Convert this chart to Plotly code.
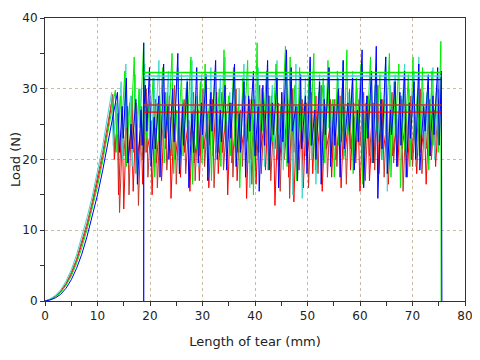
import plotly.graph_objects as go

# ---- initial ramps (length mm, load N) ----
ramp_x = [0, 1, 2, 3, 4, 5, 6, 7, 8, 9, 10, 11, 12]
cyan_ramp_y = [0, 0.3, 0.8, 1.6, 2.8, 4.4, 6.5, 9.0, 11.8, 14.8, 18.2, 22.0, 26.5]
darkred_ramp_y = [0, 0.25, 0.7, 1.4, 2.5, 4.0, 5.9, 8.3, 11.0, 14.0, 17.3, 21.0, 25.2]
red_ramp_y = [0, 0.22, 0.65, 1.3, 2.35, 3.75, 5.6, 7.9, 10.5, 13.5, 16.7, 20.3, 24.4]
green_ramp_y = [0, 0.2, 0.6, 1.2, 2.2, 3.5, 5.3, 7.5, 10.1, 13.0, 16.2, 19.8, 23.8]
blue_ramp_y = [0, 0.15, 0.45, 0.95, 1.8, 3.0, 4.6, 6.6, 9.1, 11.9, 15.0, 18.5, 22.4]

# ---- stick-slip region ----
blue_x = [13.0, 13.8, 14.2, 14.7, 14.9, 15.5, 15.8, 16.4, 16.6, 17.3, 17.6, 18.3, 18.5, 19.1, 19.4, 19.9, 20.2, 20.8, 21.0, 21.7, 21.9, 22.6, 22.9, 23.4, 23.6, 24.3, 24.6, 25.3, 25.6, 26.2, 26.4, 27.1, 27.4, 28.0, 28.3, 28.9, 29.2, 29.8, 30.0, 30.7, 31.0, 31.6, 31.8, 32.5, 32.8, 33.4, 33.6, 34.3, 34.6, 35.2, 35.4, 36.1, 36.4, 37.0, 37.2, 37.9, 38.2, 38.8, 39.0, 39.7, 40.0, 40.6, 40.8, 41.5, 41.8, 42.4, 42.7, 43.3, 43.5, 44.2, 44.5, 45.1, 45.3, 46.0, 46.3, 46.9, 47.1, 47.8, 48.1, 48.7, 48.9, 49.6, 49.9, 50.5, 50.8, 51.4, 51.6, 52.3, 52.6, 53.2, 53.4, 54.1, 54.4, 55.0, 55.2, 55.9, 56.2, 56.8, 57.0, 57.7, 58.0, 58.6, 58.9, 59.5, 59.7, 60.4, 60.7, 61.3, 61.5, 62.2, 62.5, 63.1, 63.4, 64.0, 64.2, 64.9, 65.2, 65.8, 66.0, 66.7, 67.0, 67.6, 67.8, 68.5, 68.8, 69.4, 69.6, 70.3, 70.6, 71.2, 71.4, 72.1, 72.4, 73.0, 73.3, 73.9, 74.1, 74.8, 75.1, 75.5, 75.6]
blue_y = [26.5, 29.5, 21.0, 27.5, 23.0, 31.5, 19.5, 25.0, 21.5, 28.5, 16.5, 27.0, 22.0, 30.5, 24.0, 33.0, 19.0, 26.0, 21.5, 29.0, 17.5, 33.5, 23.0, 27.5, 20.0, 30.0, 22.5, 35.0, 18.0, 27.5, 22.0, 31.0, 16.0, 26.5, 21.0, 33.0, 19.5, 28.0, 23.5, 32.0, 17.0, 29.5, 24.0, 34.0, 20.0, 27.0, 22.5, 30.5, 18.5, 28.0, 23.0, 33.5, 19.0, 26.5, 21.0, 31.0, 17.5, 29.0, 24.0, 32.5, 20.5, 27.5, 15.5, 30.5, 22.0, 34.0, 18.5, 28.0, 23.5, 31.5, 16.0, 29.5, 22.5, 35.5, 19.5, 33.0, 24.0, 27.5, 17.0, 32.0, 21.5, 29.0, 18.0, 34.5, 22.0, 27.0, 20.0, 31.0, 16.5, 28.5, 23.5, 33.0, 19.0, 27.5, 22.0, 30.0, 17.5, 34.0, 21.5, 28.0, 24.0, 31.5, 18.5, 27.0, 22.5, 35.5, 16.0, 29.0, 23.0, 32.5, 19.5, 36.0, 14.5, 28.5, 21.5, 34.5, 18.0, 27.0, 23.5, 31.0, 19.0, 29.5, 22.0, 32.5, 17.5, 28.0, 23.0, 31.0, 20.0, 33.5, 18.5, 27.5, 24.0, 32.0, 20.5, 29.0, 23.5, 33.0, 22.0, 32.5, 0]

green_x = [13.0, 13.4, 13.7, 14.4, 14.6, 15.2, 15.5, 16.1, 16.3, 17.0, 17.3, 17.9, 18.1, 18.8, 19.1, 19.7, 19.9, 20.6, 20.9, 21.5, 21.7, 22.4, 22.7, 23.3, 23.5, 24.2, 24.5, 25.1, 25.3, 26.0, 26.3, 26.9, 27.1, 27.8, 28.1, 28.7, 28.9, 29.6, 29.9, 30.5, 30.7, 31.4, 31.7, 32.3, 32.5, 33.2, 33.5, 34.1, 34.3, 35.0, 35.3, 35.9, 36.1, 36.8, 37.1, 37.7, 37.9, 38.6, 38.9, 39.5, 39.7, 40.4, 40.7, 41.3, 41.5, 42.2, 42.5, 43.1, 43.3, 44.0, 44.3, 44.9, 45.1, 45.8, 46.1, 46.7, 46.9, 47.6, 47.9, 48.5, 48.7, 49.4, 49.7, 50.3, 50.5, 51.2, 51.5, 52.1, 52.3, 53.0, 53.3, 53.9, 54.1, 54.8, 55.1, 55.7, 55.9, 56.6, 56.9, 57.5, 57.7, 58.4, 58.7, 59.3, 59.5, 60.2, 60.5, 61.1, 61.3, 62.0, 62.3, 62.9, 63.1, 63.8, 64.1, 64.7, 64.9, 65.6, 65.9, 66.5, 66.7, 67.4, 67.7, 68.3, 68.5, 69.2, 69.5, 70.1, 70.3, 71.0, 71.3, 71.9, 72.1, 72.8, 73.1, 73.7, 73.9, 74.6, 74.9, 75.4, 75.45]
green_y = [28.0, 29.8, 21.0, 29.0, 24.0, 32.5, 19.0, 28.0, 23.5, 34.5, 18.0, 30.0, 24.5, 36.5, 21.0, 27.5, 23.0, 31.5, 17.5, 28.0, 22.5, 33.0, 19.5, 29.5, 24.0, 35.0, 18.0, 27.0, 22.0, 32.0, 20.5, 30.0, 24.5, 34.5, 16.5, 28.0, 21.5, 31.0, 19.5, 33.5, 23.0, 28.5, 17.0, 32.5, 22.5, 30.0, 19.0, 35.5, 24.0, 29.0, 20.5, 33.0, 22.0, 27.5, 16.0, 31.5, 23.5, 34.0, 19.5, 28.5, 15.0, 36.5, 21.0, 30.0, 24.0, 32.5, 18.5, 29.0, 22.5, 33.5, 20.0, 27.5, 23.5, 36.0, 19.0, 34.5, 22.0, 30.5, 17.0, 33.0, 24.0, 28.0, 20.5, 32.0, 22.0, 35.0, 18.5, 29.5, 23.0, 31.5, 19.5, 34.0, 24.5, 28.5, 17.5, 32.5, 22.0, 30.0, 20.0, 35.5, 23.5, 29.0, 18.0, 31.5, 22.5, 33.5, 16.5, 28.0, 23.0, 34.5, 19.5, 30.5, 24.0, 32.0, 20.0, 28.5, 22.5, 35.0, 17.5, 31.0, 23.5, 33.5, 16.0, 29.0, 21.5, 32.0, 19.0, 34.5, 23.0, 30.0, 20.5, 33.0, 24.5, 29.5, 18.5, 32.5, 22.0, 30.5, 21.0, 36.7, 0]

cyan_x = [12.7, 13.0, 13.6, 13.8, 14.5, 14.8, 15.4, 15.6, 16.3, 16.6, 17.2, 17.4, 18.1, 18.4, 19.0, 19.2, 19.9, 20.2, 20.8, 21.0, 21.7, 22.0, 22.6, 22.8, 23.5, 23.8, 24.4, 24.6, 25.3, 25.6, 26.2, 26.4, 27.1, 27.4, 28.0, 28.2, 28.9, 29.2, 29.8, 30.0, 30.7, 31.0, 31.6, 31.8, 32.5, 32.8, 33.4, 33.6, 34.3, 34.6, 35.2, 35.4, 36.1, 36.4, 37.0, 37.2, 37.9, 38.2, 38.8, 39.0, 39.7, 40.0, 40.6, 40.8, 41.5, 41.8, 42.4, 42.6, 43.3, 43.6, 44.2, 44.4, 45.1, 45.4, 46.0, 46.2, 46.9, 47.2, 47.8, 48.0, 48.7, 49.0, 49.6, 49.8, 50.5, 50.8, 51.4, 51.6, 52.3, 52.6, 53.2, 53.4, 54.1, 54.4, 55.0, 55.2, 55.9, 56.2, 56.8, 57.0, 57.7, 58.0, 58.6, 58.8, 59.5, 59.8, 60.4, 60.6, 61.3, 61.6, 62.2, 62.4, 63.1, 63.4, 64.0, 64.2, 64.9, 65.2, 65.8, 66.0, 66.7, 67.0, 67.6, 67.8, 68.5, 68.8, 69.4, 69.6, 70.3, 70.6, 71.2, 71.4, 72.1, 72.4, 73.0, 73.2, 73.9, 74.2, 74.8, 75.3]
cyan_y = [29.5, 22.0, 28.0, 23.5, 31.0, 20.0, 33.5, 24.5, 29.0, 19.0, 32.0, 25.0, 30.0, 21.0, 33.5, 23.5, 28.5, 20.0, 31.5, 24.5, 34.0, 19.5, 29.5, 23.0, 32.5, 21.5, 30.0, 25.0, 33.0, 18.0, 28.5, 23.5, 31.5, 20.5, 34.0, 24.0, 29.0, 19.0, 32.0, 22.5, 30.5, 17.5, 33.0, 24.5, 28.5, 21.0, 31.5, 23.0, 34.5, 20.0, 29.5, 24.0, 32.0, 19.5, 30.0, 23.5, 33.5, 21.0, 28.5, 16.0, 31.0, 22.5, 33.0, 24.5, 29.5, 19.0, 32.0, 22.0, 30.5, 20.5, 34.0, 23.5, 28.0, 18.5, 32.5, 24.0, 30.0, 15.0, 33.5, 22.5, 29.0, 14.5, 31.5, 23.0, 34.0, 20.0, 29.5, 16.5, 32.0, 24.0, 30.5, 21.5, 33.0, 19.5, 28.5, 23.5, 31.5, 22.0, 34.0, 20.5, 29.5, 24.5, 32.5, 18.5, 30.0, 23.0, 33.5, 21.0, 28.5, 24.0, 31.0, 19.5, 33.0, 22.5, 29.5, 20.0, 34.5, 15.5, 30.5, 23.5, 32.0, 21.0, 29.0, 24.5, 33.5, 20.5, 30.0, 22.0, 32.5, 19.0, 34.5, 23.5, 29.5, 21.5, 31.0, 24.0, 33.0, 20.0, 30.0, 29.0]

darkred_x = [12.9, 13.3, 13.9, 14.2, 14.8, 15.0, 15.7, 16.0, 16.6, 16.8, 17.5, 17.8, 18.4, 18.6, 19.3, 19.6, 20.2, 20.4, 21.1, 21.4, 22.0, 22.2, 22.9, 23.2, 23.8, 24.0, 24.7, 25.0, 25.6, 25.8, 26.5, 26.8, 27.4, 27.6, 28.3, 28.6, 29.2, 29.4, 30.1, 30.4, 31.0, 31.2, 31.9, 32.2, 32.8, 33.0, 33.7, 34.0, 34.6, 34.8, 35.5, 35.8, 36.4, 36.6, 37.3, 37.6, 38.2, 38.4, 39.1, 39.4, 40.0, 40.2, 40.9, 41.2, 41.8, 42.0, 42.7, 43.0, 43.6, 43.8, 44.5, 44.8, 45.4, 45.6, 46.3, 46.6, 47.2, 47.4, 48.1, 48.4, 49.0, 49.2, 49.9, 50.2, 50.8, 51.0, 51.7, 52.0, 52.6, 52.8, 53.5, 53.8, 54.4, 54.6, 55.3, 55.6, 56.2, 56.4, 57.1, 57.4, 58.0, 58.2, 58.9, 59.2, 59.8, 60.0, 60.7, 61.0, 61.6, 61.8, 62.5, 62.8, 63.4, 63.6, 64.3, 64.6, 65.2, 65.4, 66.1, 66.4, 67.0, 67.2, 67.9, 68.2, 68.8, 69.0, 69.7, 70.0, 70.6, 70.8, 71.5, 71.8, 72.4, 72.6, 73.3, 73.6, 74.2, 74.4, 75.0, 75.4]
darkred_y = [29.0, 21.0, 26.5, 12.5, 25.0, 20.5, 27.5, 15.0, 29.0, 21.0, 26.0, 13.5, 27.5, 20.0, 30.0, 17.5, 25.5, 21.5, 28.5, 16.0, 27.0, 22.0, 29.5, 18.5, 26.0, 20.5, 30.5, 16.5, 27.5, 21.5, 28.5, 18.0, 25.5, 22.5, 29.5, 17.0, 27.0, 20.5, 30.0, 19.0, 26.5, 22.0, 28.5, 16.0, 27.0, 21.0, 29.5, 18.5, 25.5, 22.5, 28.0, 17.5, 30.0, 21.0, 27.0, 19.0, 29.0, 22.5, 26.0, 16.5, 28.5, 20.5, 30.5, 18.0, 27.0, 22.0, 29.0, 17.0, 26.5, 21.5, 28.0, 15.5, 29.5, 20.0, 27.0, 14.5, 30.0, 21.0, 26.5, 18.5, 28.5, 22.5, 27.0, 16.0, 29.5, 20.5, 26.0, 18.0, 30.5, 22.0, 27.5, 17.5, 28.5, 21.0, 26.5, 19.0, 29.0, 22.5, 27.0, 16.5, 30.0, 21.5, 26.0, 19.5, 28.5, 22.0, 29.5, 17.0, 27.0, 20.5, 28.0, 18.5, 30.5, 22.5, 26.5, 17.5, 28.0, 21.0, 29.5, 19.5, 26.5, 22.0, 28.5, 15.5, 27.0, 21.0, 29.0, 19.0, 26.0, 22.5, 30.0, 18.0, 27.5, 21.5, 28.5, 20.0, 27.0, 22.0, 28.5, 27.0]

red_x = [12.9, 13.2, 13.8, 14.0, 14.7, 15.0, 15.6, 15.8, 16.5, 16.8, 17.4, 17.6, 18.3, 18.6, 19.2, 19.4, 20.1, 20.4, 21.0, 21.2, 21.9, 22.2, 22.8, 23.0, 23.7, 24.0, 24.6, 24.8, 25.5, 25.8, 26.4, 26.6, 27.3, 27.6, 28.2, 28.4, 29.1, 29.4, 30.0, 30.2, 30.9, 31.2, 31.8, 32.0, 32.7, 33.0, 33.6, 33.8, 34.5, 34.8, 35.4, 35.6, 36.3, 36.6, 37.2, 37.4, 38.1, 38.4, 39.0, 39.2, 39.9, 40.2, 40.8, 41.0, 41.7, 42.0, 42.6, 42.8, 43.5, 43.8, 44.4, 44.6, 45.3, 45.6, 46.2, 46.4, 47.1, 47.4, 48.0, 48.2, 48.9, 49.2, 49.8, 50.0, 50.7, 51.0, 51.6, 51.8, 52.5, 52.8, 53.4, 53.6, 54.3, 54.6, 55.2, 55.4, 56.1, 56.4, 57.0, 57.2, 57.9, 58.2, 58.8, 59.0, 59.7, 60.0, 60.6, 60.8, 61.5, 61.8, 62.4, 62.6, 63.3, 63.6, 64.2, 64.4, 65.1, 65.4, 66.0, 66.2, 66.9, 67.2, 67.8, 68.0, 68.7, 69.0, 69.6, 69.8, 70.5, 70.8, 71.4, 71.6, 72.3, 72.6, 73.2, 73.4, 74.1, 74.4, 75.0, 75.3]
red_y = [29.2, 20.0, 25.5, 15.0, 26.5, 13.0, 27.5, 19.5, 24.5, 15.5, 28.0, 20.0, 25.0, 16.5, 27.0, 21.0, 24.0, 15.0, 28.5, 19.5, 25.5, 17.0, 27.5, 21.5, 29.0, 14.5, 26.0, 20.0, 24.5, 17.5, 28.0, 21.0, 25.5, 15.5, 27.0, 19.5, 24.0, 17.0, 28.5, 21.5, 25.0, 16.0, 27.5, 20.5, 29.5, 18.0, 25.5, 21.0, 26.5, 15.0, 28.0, 19.5, 24.5, 17.0, 27.0, 21.5, 25.0, 14.5, 28.5, 20.0, 26.0, 16.5, 27.5, 21.0, 24.5, 18.5, 29.0, 20.5, 25.5, 13.5, 27.0, 19.0, 25.0, 21.5, 28.5, 17.5, 26.5, 14.0, 27.5, 20.0, 24.5, 16.0, 28.0, 21.0, 25.5, 18.0, 29.0, 20.5, 26.0, 15.5, 27.0, 21.5, 24.5, 17.5, 28.5, 20.0, 25.0, 16.0, 27.5, 21.0, 26.5, 18.5, 28.0, 20.5, 24.5, 15.5, 27.0, 21.5, 29.0, 17.0, 25.5, 20.0, 26.5, 18.0, 28.5, 21.0, 25.0, 16.5, 27.5, 20.5, 24.5, 19.0, 29.0, 21.5, 25.5, 17.5, 27.0, 20.0, 26.0, 18.0, 28.5, 21.0, 25.0, 16.5, 27.5, 20.5, 26.0, 19.0, 27.0, 26.5]

# ---- average-peak lines and markers ----
avg_start = 18.8
avg_end = 75.5
avg_values = {"green": 32.3, "cyan": 31.8, "blue": 31.3, "darkred": 27.7, "red": 26.7}
marker_x = 18.8
marker_top = 36.5

colors = {
    "red": "#ff0000",
    "darkred": "#c0392b",
    "cyan": "#40d8cc",
    "green": "#00ee00",
    "blue": "#0000ff",
}

series = [
    ("red", red_ramp_y, red_x, red_y),
    ("darkred", darkred_ramp_y, darkred_x, darkred_y),
    ("cyan", cyan_ramp_y, cyan_x, cyan_y),
    ("green", green_ramp_y, green_x, green_y),
    ("blue", blue_ramp_y, blue_x, blue_y),
]

fig = go.Figure()
for name, ry, sx, sy in series:
    fig.add_trace(go.Scatter(
        x=ramp_x + sx, y=ry + sy, mode="lines", name=name,
        line=dict(color=colors[name], width=1),
    ))

fig.add_trace(go.Scatter(x=[marker_x, marker_x], y=[0, marker_top], mode="lines",
                         line=dict(color=colors["blue"], width=1.2)))

for name, v in avg_values.items():
    fig.add_trace(go.Scatter(x=[avg_start, avg_end], y=[v, v], mode="lines",
                             line=dict(color=colors[name], width=1.3)))

axis_common = dict(
    showline=True, linecolor="#333333", linewidth=1, mirror=True,
    ticks="outside", ticklen=4, tickcolor="#333333",
    showgrid=True, gridcolor="#c8bca8", griddash="dot", gridwidth=1,
    zeroline=False, automargin=False,
    tickfont=dict(family="DejaVu Sans", size=12, color="#222222"),
)

fig.update_layout(
    width=480, height=360,
    margin=dict(l=37, r=23, t=10, b=67),
    paper_bgcolor="white", plot_bgcolor="white",
    showlegend=False,
    font=dict(family="DejaVu Sans", size=12, color="#222222"),
    xaxis=dict(range=[0, 80], dtick=10, tick0=0,
               minor=dict(dtick=5, ticks="outside", ticklen=4, tickcolor="#333333", showgrid=False),
               title=dict(text="Length of tear (mm)", font=dict(size=13), standoff=14),
               **axis_common),
    yaxis=dict(range=[0, 40], dtick=10, tick0=0,
               minor=dict(dtick=5, ticks="outside", ticklen=4, tickcolor="#333333", showgrid=False),
               title=dict(text="Load (N)", font=dict(size=13), standoff=4),
               **axis_common),
)

fig.write_html("out.html")
